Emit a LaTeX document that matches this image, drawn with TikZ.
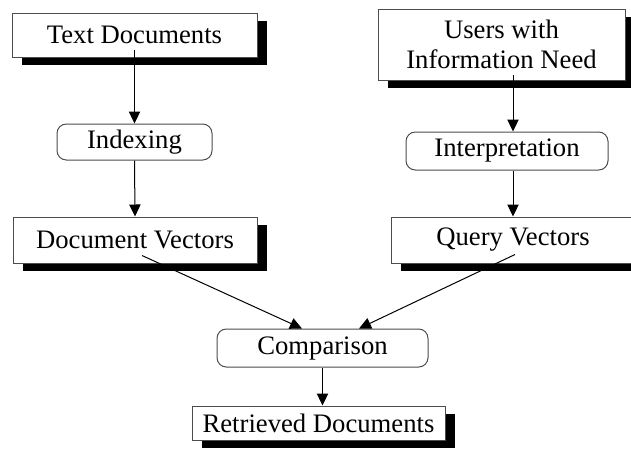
\documentclass[tikz,border=0pt]{standalone}
\usepackage{fontspec}
\setmainfont{Liberation Serif}
\usetikzlibrary{shadows,arrows.meta}

\tikzset{
  docbox/.style={draw=black!70, line width=0.75pt, fill=white, inner sep=0pt, align=center,
    drop shadow={shadow xshift=7.5pt, shadow yshift=-6pt, fill=black, opacity=1}},
  procbox/.style={draw=black!70, line width=0.75pt, fill=white, inner sep=0pt, rounded corners=7pt},
  flow/.style={line width=0.75pt, -{Triangle[length=9pt,width=8.5pt]}}
}

\begin{document}
\begin{tikzpicture}[x=0.75pt,y=0.75pt,yscale=-1,xscale=1,font=\fontsize{20}{23}\selectfont]
\useasboundingbox (0,0) rectangle (631,451);

% Document side
\node [docbox, minimum width=183.75pt, minimum height=33pt] (textdocs) at (134.5,35) {Text Documents};
\node [procbox, minimum width=116.25pt, minimum height=27pt] (indexing) at (134.5,142) {Indexing};
\node [docbox, minimum width=183pt, minimum height=34.5pt] (docvec) at (135,240) {Document Vectors};

% Query side
\node [docbox, minimum width=185.25pt, minimum height=53.25pt] (users) at (501.5,44.5) {Users with\\Information Need};
\node [procbox, minimum width=151.5pt, minimum height=28.5pt] (interp) at (507,151) {Interpretation};
\node [docbox, minimum width=183pt, minimum height=34.5pt] (queryvec) at (513,240) {Query Vectors};

% Matching
\node [procbox, minimum width=158.25pt, minimum height=28.5pt] (compare) at (322.5,348) {Comparison};
\node [docbox, minimum width=189.75pt, minimum height=25.5pt] (retrieved) at (318.5,423) {Retrieved Documents};

% Arrows
\draw [flow] ([yshift=-6pt]textdocs.south) -- (indexing.north);
\draw [flow] (indexing.south) -- (docvec.north);
\draw [flow] ([yshift=-4.5pt]users.south -| queryvec) -- (interp.north -| queryvec);
\draw [flow] (interp.south -| queryvec) -- (queryvec.north);
\draw [flow] ([xshift=5.25pt,yshift=-6pt]docvec.south) -- ([xshift=-15.4pt]compare.north);
\draw [flow] ([xshift=1.5pt,yshift=-6.75pt]queryvec.south) -- ([xshift=27.4pt]compare.north);
\draw [flow] (compare.south) -- (compare.south |- retrieved.north);

\end{tikzpicture}
\end{document}
